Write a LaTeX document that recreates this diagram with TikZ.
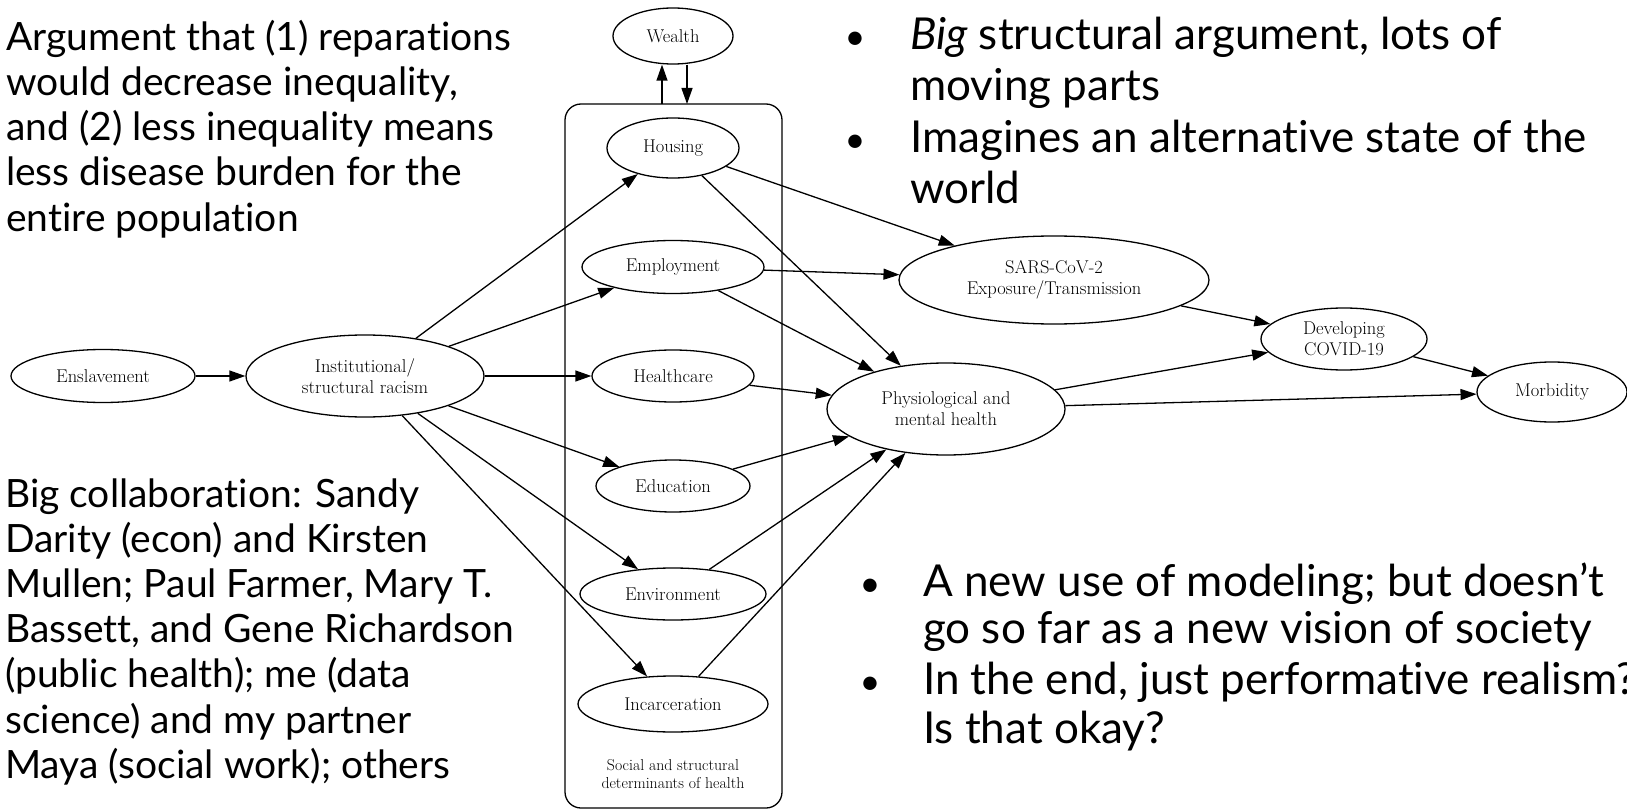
\documentclass[tikz,border=0pt]{standalone}
\usepackage{fontspec}
\newfontfamily\av[Ligatures={TeX,NoCommon}]{Lato}
\usetikzlibrary{shapes.geometric,arrows.meta}
\begin{document}
\begin{tikzpicture}[x=1pt,y=-1pt,
  gn/.style={ellipse, draw, line width=1.3pt, inner sep=0pt, align=center,
    font=\fontsize{18.5}{21}\selectfont},
  arr/.style={line width=1.3pt, -{Triangle[length=16pt,width=11pt]}},
  lt/.style={anchor=base west, inner sep=0pt, font=\av\fontsize{39}{45}\selectfont},
  rt/.style={anchor=base west, inner sep=0pt, font=\av\fontsize{44}{52}\selectfont},
  bul/.style={anchor=base, inner sep=0pt, font=\av\fontsize{36}{52}\selectfont},
]
\useasboundingbox (0,0) rectangle (1627,810);

% cluster box
\node[draw, line width=1.3pt, rounded corners=16pt, minimum width=217pt, minimum height=704pt, inner sep=0pt] (cluster) at (673.5,456) {};
\node[align=center, inner sep=0pt, font=\fontsize{15.8}{18}\selectfont] (clabel) at (673,774) {Social and structural\\determinants of health};

% nodes
\node[gn, minimum width=120pt, minimum height=56pt] (wealth) at (673,36) {Wealth};
\node[gn, minimum width=132pt, minimum height=60pt] (housing) at (673,148) {Housing};
\node[gn, minimum width=182pt, minimum height=53pt] (employment) at (673,267) {Employment};
\node[gn, minimum width=162pt, minimum height=52pt] (healthcare) at (673,376) {Healthcare};
\node[gn, minimum width=154pt, minimum height=52pt] (education) at (673,486) {Education};
\node[gn, minimum width=186pt, minimum height=52pt] (environment) at (673,594) {Environment};
\node[gn, minimum width=190pt, minimum height=56pt] (incarceration) at (673,704) {Incarceration};
\node[gn, minimum width=184pt, minimum height=53pt] (ensl) at (103,376) {Enslavement};
\node[gn, minimum width=238pt, minimum height=82pt] (racism) at (365,376) {Institutional/\\structural racism};
\node[gn, minimum width=310pt, minimum height=88pt] (sars) at (1054,280) {SARS-CoV-2\\Exposure/Transmission};
\node[gn, minimum width=238pt, minimum height=92pt] (physio) at (946,409) {Physiological and\\mental health};
\node[gn, minimum width=166pt, minimum height=62pt] (covid) at (1344,339) {Developing\\COVID-19};
\node[gn, minimum width=150pt, minimum height=60pt] (morb) at (1552,392) {Morbidity};

% wealth arrows
\coordinate (wa) at (662,104);
\coordinate (wb) at (687,104);
\draw[arr] (wa) -- (wa |- wealth.south);
\draw[arr] (wb |- wealth.south) -- (wb);

% edges
\draw[arr] (ensl) -- (racism);
\foreach \n in {housing,employment,healthcare,education,environment,incarceration}
  \draw[arr] (racism) -- (\n);
\draw[arr] (housing) -- (sars);
\draw[arr] (employment) -- (sars);
\foreach \n in {housing,employment,healthcare,education,environment,incarceration}
  \draw[arr] (\n) -- (physio);
\draw[arr] (sars) -- (covid);
\draw[arr] (physio) -- (covid);
\draw[arr] (physio) -- (morb);
\draw[arr] (covid) -- (morb);

% left top text
\node[lt] (tl1) at (6,51) {Argument that (1) reparations};
\node[lt] (tl2) at (6,96) {would decrease inequality,};
\node[lt] (tl3) at (6,141) {and (2) less inequality means};
\node[lt] (tl4) at (6,186) {less disease burden for the};
\node[lt] (tl5) at (6,231.5) {entire population};

% left bottom text
\node[lt] (bl1) at (5,507) {Big collaboration: Sandy};
\node[lt] (bl2) at (5,552.2) {Darity (econ) and Kirsten};
\node[lt] (bl3) at (5,597.4) {Mullen; Paul Farmer, Mary T.};
\node[lt] (bl4) at (5,642.6) {Bassett, and Gene Richardson};
\node[lt] (bl5) at (5,687.8) {(public health); me (data};
\node[lt] (bl6) at (5,733) {science) and my partner};
\node[lt] (bl7) at (5,778.2) {Maya (social work); others};

% right top bullets
\node[bul] (b1) at (855,50) {•};
\node[rt] (tr1) at (910,50) {\itshape Big\upshape{} structural argument, lots of};
\node[rt] (tr2) at (910,101) {moving parts};
\node[bul] (b2) at (855,152.5) {•};
\node[rt] (tr3) at (910,152.5) {Imagines an alternative state of the};
\node[rt] (tr4) at (910,204) {world};

% right bottom bullets
\node[bul] (b3) at (870,596) {•};
\node[rt] (br1) at (923,596) {A new use of modeling; but doesn’t};
\node[rt] (br2) at (923,643) {go so far as a new vision of society};
\node[bul] (b4) at (870,694.5) {•};
\node[rt] (br3) at (923,694.5) {In the end, just performative realism?};
\node[rt] (br4) at (923,743) {Is that okay?};
\end{tikzpicture}
\end{document}
